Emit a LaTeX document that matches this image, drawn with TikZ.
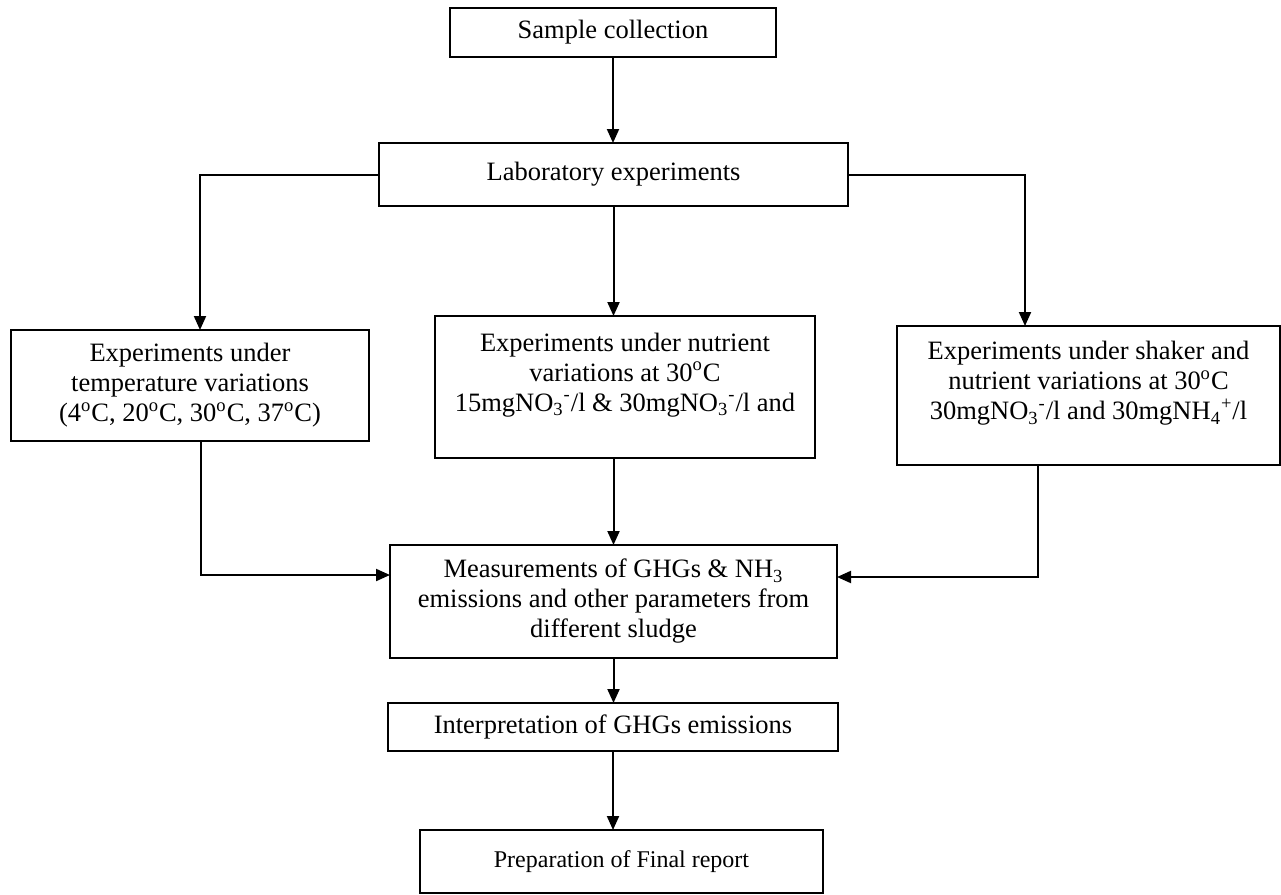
\documentclass[tikz,border=0pt]{standalone}
\usepackage{fontspec}
\setmainfont{Liberation Serif}
\usepackage{tikz}
\usetikzlibrary{calc,arrows.meta}

\newcommand{\degC}{\textsuperscript{o}C}
\newcommand{\nitrate}{NO\textsubscript{3}\textsuperscript{-}}

\begin{document}
\begin{tikzpicture}[x=0.5pt, y=-0.5pt,
    box/.style = {draw, line width=1pt, inner sep=0pt, outer sep=0pt, align=center,
                  font=\fontsize{13.25}{15}\selectfont},
    arr/.style = {line width=1pt, -{Triangle[length=7pt, width=6pt]}}]
            \useasboundingbox (0,0) rectangle (1281,895);

            \node[box, minimum width=163pt, minimum height=24.5pt] (sample) at (613,32.5) {Sample collection};
            \node[box, minimum width=234.5pt, minimum height=31.5pt] (lab) at (613.5,174.5) {Laboratory experiments};

            \node[box, minimum width=179pt, minimum height=55.5pt] (temp) at (190,385.5)
                {Experiments under\\ temperature variations\\ (4\degC, 20\degC, 30\degC, 37\degC)};
            \node[box, minimum width=190pt, minimum height=71pt] (nutr) at (625,387)
                {Experiments under nutrient\\ variations at 30\degC\\ 15mg\nitrate/l \& 30mg\nitrate/l and\\ \mbox{}};
            \node[box, minimum width=191.5pt, minimum height=69.5pt] (shaker) at (1088.5,395.5)
                {Experiments under shaker and\\ nutrient variations at 30\degC\\ 30mg\nitrate/l and 30mgNH\textsubscript{4}\textsuperscript{+}/l\\ \mbox{}};

            \node[box, minimum width=223.5pt, minimum height=56.5pt] (meas) at (613.5,601.5)
                {Measurements of GHGs \& NH\textsubscript{3}\\ emissions and other parameters from\\ different sludge};
            \node[box, minimum width=225pt, minimum height=24pt] (interp) at (613,727) {Interpretation of GHGs emissions};
            \node[box, minimum width=201.5pt, minimum height=31.5pt, font=\fontsize{12}{14}\selectfont] (prep) at (621.5,861.5)
                {Preparation of Final report};

            \coordinate (lbend) at (200,174.5);
            \coordinate (rbend) at (1025,174.5);
            \coordinate (ljoin) at (201,575);
            \coordinate (rjoin) at (1038,577);

            \draw[arr] (sample.south) -- (sample.south |- lab.north);
            \draw[arr] (lab.west) -- (lbend) -- (lbend |- temp.north);
            \draw[arr] (lab.south) -- (lab.south |- nutr.north);
            \draw[arr] (lab.east) -- (rbend) -- (rbend |- shaker.north);

            \draw[arr] (ljoin |- temp.south) -- (ljoin) -- (ljoin -| meas.west);
            \draw[arr] (nutr.south -| lab.south) -- (meas.north -| lab.south);
            \draw[arr] (rjoin |- shaker.south) -- (rjoin) -- (rjoin -| meas.east);

            \draw[arr] (meas.south) -- (meas.south |- interp.north);
            \draw[arr] (interp.south) -- (interp.south |- prep.north);
          \end{tikzpicture}
\end{document}
